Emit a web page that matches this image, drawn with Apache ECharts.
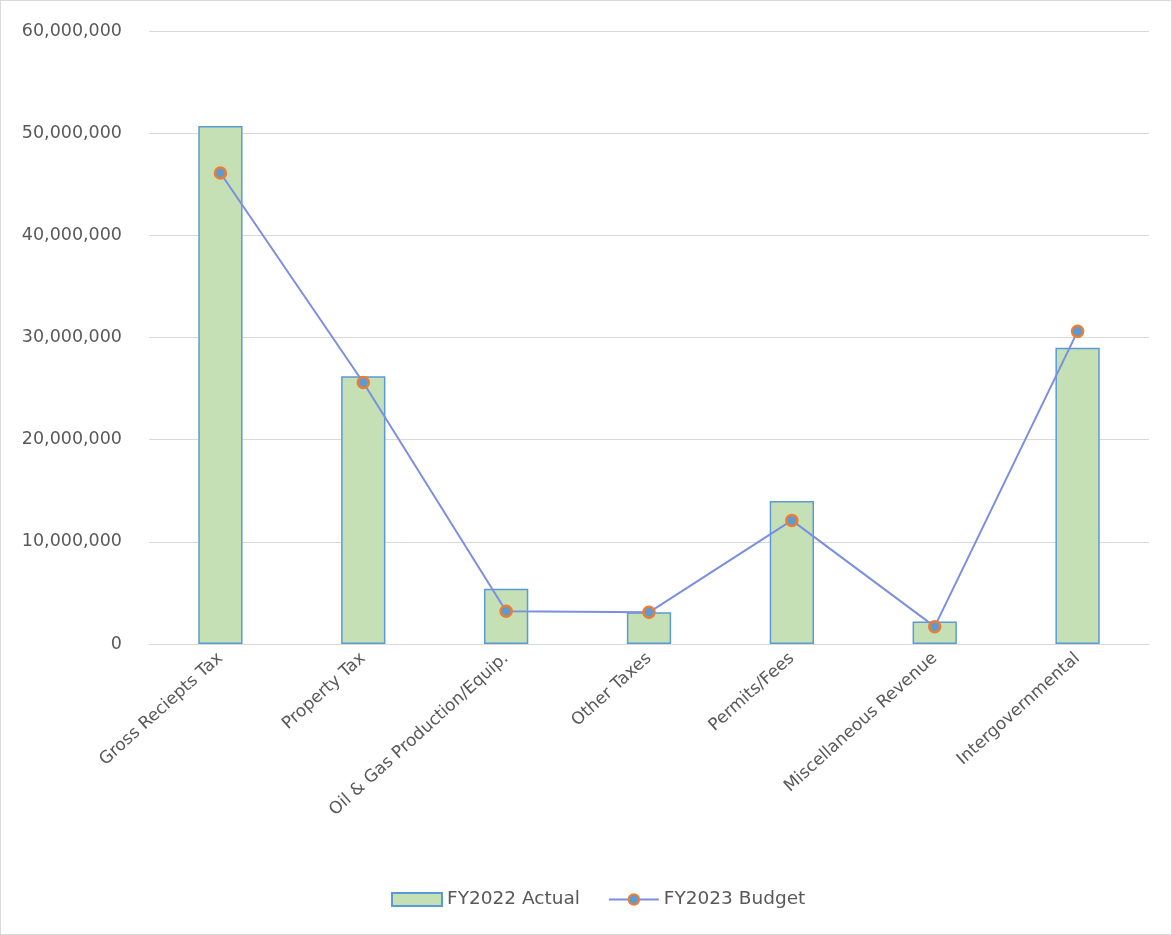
<!DOCTYPE html>
<html>
<head>
<meta charset="utf-8">
<script src="https://cdn.jsdelivr.net/npm/echarts@6/dist/echarts.min.js"></script>
<style>
  html, body { margin: 0; padding: 0; background: #fff; }
  #main { width: 1172px; height: 935px; box-sizing: border-box; border: 1px solid #d9d9d9; }
</style>
</head>
<body>
<div id="main"></div>
<script>
// revenue categories
var categories = ["Gross Reciepts Tax", "Property Tax", "Oil & Gas Production/Equip.",
  "Other Taxes", "Permits/Fees", "Miscellaneous Revenue", "Intergovernmental"];
var actual2022 = [50700000, 26200000, 5400000, 3100000, 14000000, 2200000, 29000000];
var budget2023 = [46100000, 25600000, 3200000, 3100000, 12100000, 1700000, 30600000];
var seriesNames = ["FY2022 Actual", "FY2023 Budget"];

var myChart = echarts.init(document.getElementById("main"));
var option = {
  animation: false,
  textStyle: { fontFamily: "DejaVu Sans, sans-serif" },
  grid: { left: 148, right: 22, top: 30, bottom: 290 },
  legend: {
    bottom: 20,
    left: 385,
    itemGap: 28,
    textStyle: { color: "#595959", fontSize: 18.5 },
    data: [
      { name: seriesNames[0], icon: "rect" },
      { name: seriesNames[1] }
    ],
    itemWidth: 50,
    itemHeight: 13
  },
  xAxis: {
    type: "category",
    data: categories,
    axisLine: { lineStyle: { color: "#d9d9d9", width: 1 } },
    axisTick: { show: false },
    axisLabel: { rotate: 42, color: "#595959", fontSize: 17, interval: 0, margin: 12 }
  },
  yAxis: {
    type: "value",
    min: 0,
    max: 60000000,
    interval: 10000000,
    axisLine: { show: false },
    axisTick: { show: false },
    splitLine: { lineStyle: { color: "#d9d9d9" } },
    axisLabel: {
      color: "#595959",
      fontSize: 17.5,
      margin: 27,
      formatter: function (v) { return v.toLocaleString("en-US"); }
    }
  },
  series: [
    {
      name: seriesNames[0],
      type: "bar",
      data: actual2022,
      barWidth: "31%",
      itemStyle: { color: "#c5e0b4", borderColor: "#5b9bd5", borderWidth: 1.5 }
    },
    {
      name: seriesNames[1],
      type: "line",
      data: budget2023,
      symbol: "circle",
      symbolSize: 11,
      lineStyle: { color: "#7b8fe0", width: 2 },
      itemStyle: { color: "#5b9bd5", borderColor: "#ed7d31", borderWidth: 2.5 }
    }
  ]
};
option && myChart.setOption(option);
</script>
</body>
</html>
